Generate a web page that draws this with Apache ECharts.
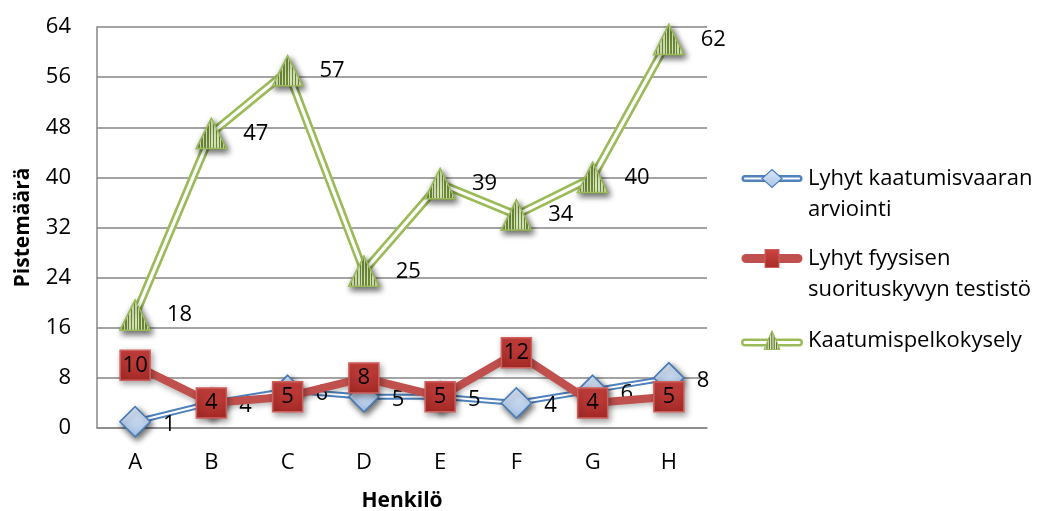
<!DOCTYPE html>
<html>
<head>
<meta charset="utf-8">
<script src="https://cdn.jsdelivr.net/npm/echarts@6/dist/echarts.min.js"></script>
<style>
  html, body { margin: 0; padding: 0; background: #fff; }
  #chart { width: 1045px; height: 511px; }
</style>
</head>
<body>
<div id="chart"></div>
<script>
// Henkilöt ja pistemäärät
const categories = ['A', 'B', 'C', 'D', 'E', 'F', 'G', 'H'];
const yTicks = [0, 8, 16, 24, 32, 40, 48, 56, 64];
const kaatumisvaara = [1, 4, 6, 5, 5, 4, 6, 8];
const fyysinenTestisto = [10, 4, 5, 8, 5, 12, 4, 5];
const pelkokysely = [18, 47, 57, 25, 39, 34, 40, 62];

const NAME_BLUE = 'Lyhyt kaatumisvaaran arviointi';
const NAME_RED = 'Lyhyt fyysisen suorituskyvyn testistö';
const NAME_GREEN = 'Kaatumispelkokysely';

const FONT = '"Open Sans", sans-serif';
const FS = 22;
const LH = 31;

// vertical hatch for the triangle markers
function hatch(dark, light, n) {
  const stops = [];
  for (let i = 0; i < n; i++) {
    const a = i / n, b = (i + 0.5) / n, c = (i + 1) / n;
    stops.push({ offset: a, color: dark }, { offset: b, color: dark });
    stops.push({ offset: b, color: light }, { offset: c, color: light });
  }
  return new echarts.graphic.LinearGradient(0, 0, 1, 0, stops);
}

function svgIcon(body) {
  const svg = "<svg xmlns='http://www.w3.org/2000/svg' width='62' height='24' viewBox='0 0 62 24'>" + body + '</svg>';
  return 'image://data:image/svg+xml;charset=utf-8,' + encodeURIComponent(svg);
}

let stripes = '';
for (let x = 23; x < 39; x += 2.4) stripes += "<rect x='" + x + "' y='3' width='1.2' height='18' fill='#5f7a30'/>";

const ICON_BLUE = svgIcon(
  "<defs><linearGradient id='g' x1='0' y1='0' x2='0' y2='1'><stop offset='0' stop-color='#dbe6f5'/><stop offset='1' stop-color='#a9c4e8'/></linearGradient></defs>" +
  "<line x1='4' y1='12' x2='58' y2='12' stroke='#4f81bd' stroke-width='7' stroke-linecap='round'/>" +
  "<line x1='4' y1='12' x2='58' y2='12' stroke='#fff' stroke-width='2.2' stroke-linecap='round'/>" +
  "<path d='M31 3 L41 12 L31 21 L21 12 Z' fill='url(#g)' stroke='#4a7ebb' stroke-width='1.2'/>"
);
const ICON_RED = svgIcon(
  "<defs><linearGradient id='r' x1='0' y1='0' x2='0' y2='1'><stop offset='0' stop-color='#cc4441'/><stop offset='1' stop-color='#a82c29'/></linearGradient></defs>" +
  "<line x1='5' y1='12' x2='57' y2='12' stroke='#c0504d' stroke-width='9' stroke-linecap='round'/>" +
  "<rect x='24' y='3' width='14' height='18' fill='url(#r)' stroke='#d0605c' stroke-width='1'/>"
);
const ICON_GREEN = svgIcon(
  "<defs><clipPath id='c'><path d='M31 2 L39 21 L23 21 Z'/></clipPath></defs>" +
  "<line x1='4' y1='14' x2='58' y2='14' stroke='#9bbb59' stroke-width='8' stroke-linecap='round'/>" +
  "<line x1='4' y1='14' x2='58' y2='14' stroke='#fff' stroke-width='3' stroke-linecap='round'/>" +
  "<path d='M31 2 L39 21 L23 21 Z' fill='#dfe8c6'/>" +
  "<g clip-path='url(#c)'>" + stripes + "</g>" +
  "<path d='M31 2 L39 21 L23 21 Z' fill='none' stroke='#9bbb59' stroke-width='1'/>"
);

const labelBase = { color: '#000', fontFamily: FONT, fontSize: FS };
const shadow = { shadowColor: 'rgba(0,0,0,0.35)', shadowBlur: 6, shadowOffsetX: 2, shadowOffsetY: 3 };

const diamondStyle = Object.assign({
  color: new echarts.graphic.LinearGradient(0, 0, 0, 1, [
    { offset: 0, color: '#dbe6f5' }, { offset: 1, color: '#a9c4e8' }
  ]),
  borderColor: '#4a7ebb', borderWidth: 1.5
}, shadow);

const squareStyle = Object.assign({
  color: new echarts.graphic.LinearGradient(0, 0, 0, 1, [
    { offset: 0, color: '#c9413e' }, { offset: 1, color: '#a52a27' }
  ]),
  borderColor: '#d0605c', borderWidth: 1.5
}, shadow);

const triStyle = Object.assign({
  color: hatch('#6b8a37', '#d6e2b8', 11),
  borderColor: '#9bbb59', borderWidth: 1.5
}, shadow);

// one legend block per series; a leading empty line keeps the icon on the first text line
function legendBlock(name, icon, text, top) {
  const twoLines = text.indexOf('\n') >= 0;
  const shown = twoLines ? ' \n' + text : text;
  return {
    orient: 'vertical',
    left: 741,
    top: top,
    padding: 0,
    itemWidth: 62,
    itemHeight: 24,
    selectedMode: false,
    textStyle: { fontFamily: FONT, fontSize: FS, color: '#000', lineHeight: LH },
    formatter: function () { return shown; },
    data: [{ name: name, icon: icon }]
  };
}

const option = {
  backgroundColor: '#fff',
  animation: false,
  grid: { left: 97, right: 338, top: 27, bottom: 83, containLabel: false, outerBoundsMode: 'none' },
  xAxis: {
    type: 'category',
    data: categories,
    boundaryGap: true,
    name: 'Henkilö',
    nameLocation: 'middle',
    nameGap: 63,
    nameTextStyle: { fontFamily: FONT, fontSize: 21, fontWeight: 'bold', color: '#000' },
    axisLine: { lineStyle: { color: '#868686', width: 1.5 } },
    axisTick: { show: false },
    axisLabel: { fontFamily: FONT, fontSize: FS, color: '#000', margin: 24 }
  },
  yAxis: {
    type: 'value',
    min: yTicks[0],
    max: yTicks[yTicks.length - 1],
    interval: yTicks[1] - yTicks[0],
    name: 'Pistemäärä',
    nameLocation: 'middle',
    nameGap: 63,
    nameTextStyle: { fontFamily: FONT, fontSize: 21, fontWeight: 'bold', color: '#000' },
    axisLine: { show: true, lineStyle: { color: '#868686', width: 1.5 } },
    axisTick: { show: false },
    splitLine: { lineStyle: { color: '#868686', width: 1.5 } },
    axisLabel: { fontFamily: FONT, fontSize: FS, color: '#000', margin: 26 }
  },
  legend: [
    legendBlock(NAME_BLUE, ICON_BLUE, 'Lyhyt kaatumisvaaran\narviointi', 132),
    legendBlock(NAME_RED, ICON_RED, 'Lyhyt fyysisen\nsuorituskyvyn testistö', 212),
    legendBlock(NAME_GREEN, ICON_GREEN, 'Kaatumispelkokysely', 325)
  ],
  series: [
    // sininen kaksoisviiva: ulompi viiva
    {
      name: NAME_BLUE, type: 'line', data: kaatumisvaara, z: 2,
      symbol: 'diamond', symbolSize: 30, itemStyle: diamondStyle,
      lineStyle: { color: '#4f81bd', width: 6 }
    },
    {
      name: 'blue-inner', type: 'line', data: kaatumisvaara, z: 3, silent: true,
      symbol: 'none', lineStyle: { color: '#fff', width: 2 }
    },
    {
      name: 'blue-marks', type: 'line', data: kaatumisvaara, z: 4,
      symbol: 'diamond', symbolSize: 30, itemStyle: diamondStyle,
      lineStyle: { width: 0, opacity: 0 },
      label: Object.assign({ show: true, position: 'right', distance: 12, offset: [0, 3] }, labelBase)
    },
    // punainen viiva
    {
      name: NAME_RED, type: 'line', data: fyysinenTestisto, z: 5,
      symbol: 'rect', symbolSize: 30, itemStyle: squareStyle,
      lineStyle: { color: '#c0504d', width: 8, shadowColor: 'rgba(0,0,0,0.25)', shadowBlur: 5, shadowOffsetY: 3 },
      label: Object.assign({ show: true, position: 'inside' }, labelBase)
    },
    // vihreä kaksoisviiva
    {
      name: NAME_GREEN, type: 'line', data: pelkokysely, z: 6,
      symbol: 'triangle', symbolSize: 30, itemStyle: triStyle,
      lineStyle: { color: '#9bbb59', width: 8.5 }
    },
    {
      name: 'green-inner', type: 'line', data: pelkokysely, z: 7, silent: true,
      symbol: 'none', lineStyle: { color: '#fff', width: 3.2 }
    },
    {
      name: 'green-marks', type: 'line', data: pelkokysely, z: 8,
      symbol: 'triangle', symbolSize: 30, itemStyle: triStyle,
      lineStyle: { width: 0, opacity: 0 },
      label: Object.assign({ show: true, position: 'right', distance: 16 }, labelBase)
    }
  ]
};

const chart = echarts.init(document.getElementById('chart'), null, { renderer: 'canvas' });
chart.setOption(option);
</script>
</body>
</html>
